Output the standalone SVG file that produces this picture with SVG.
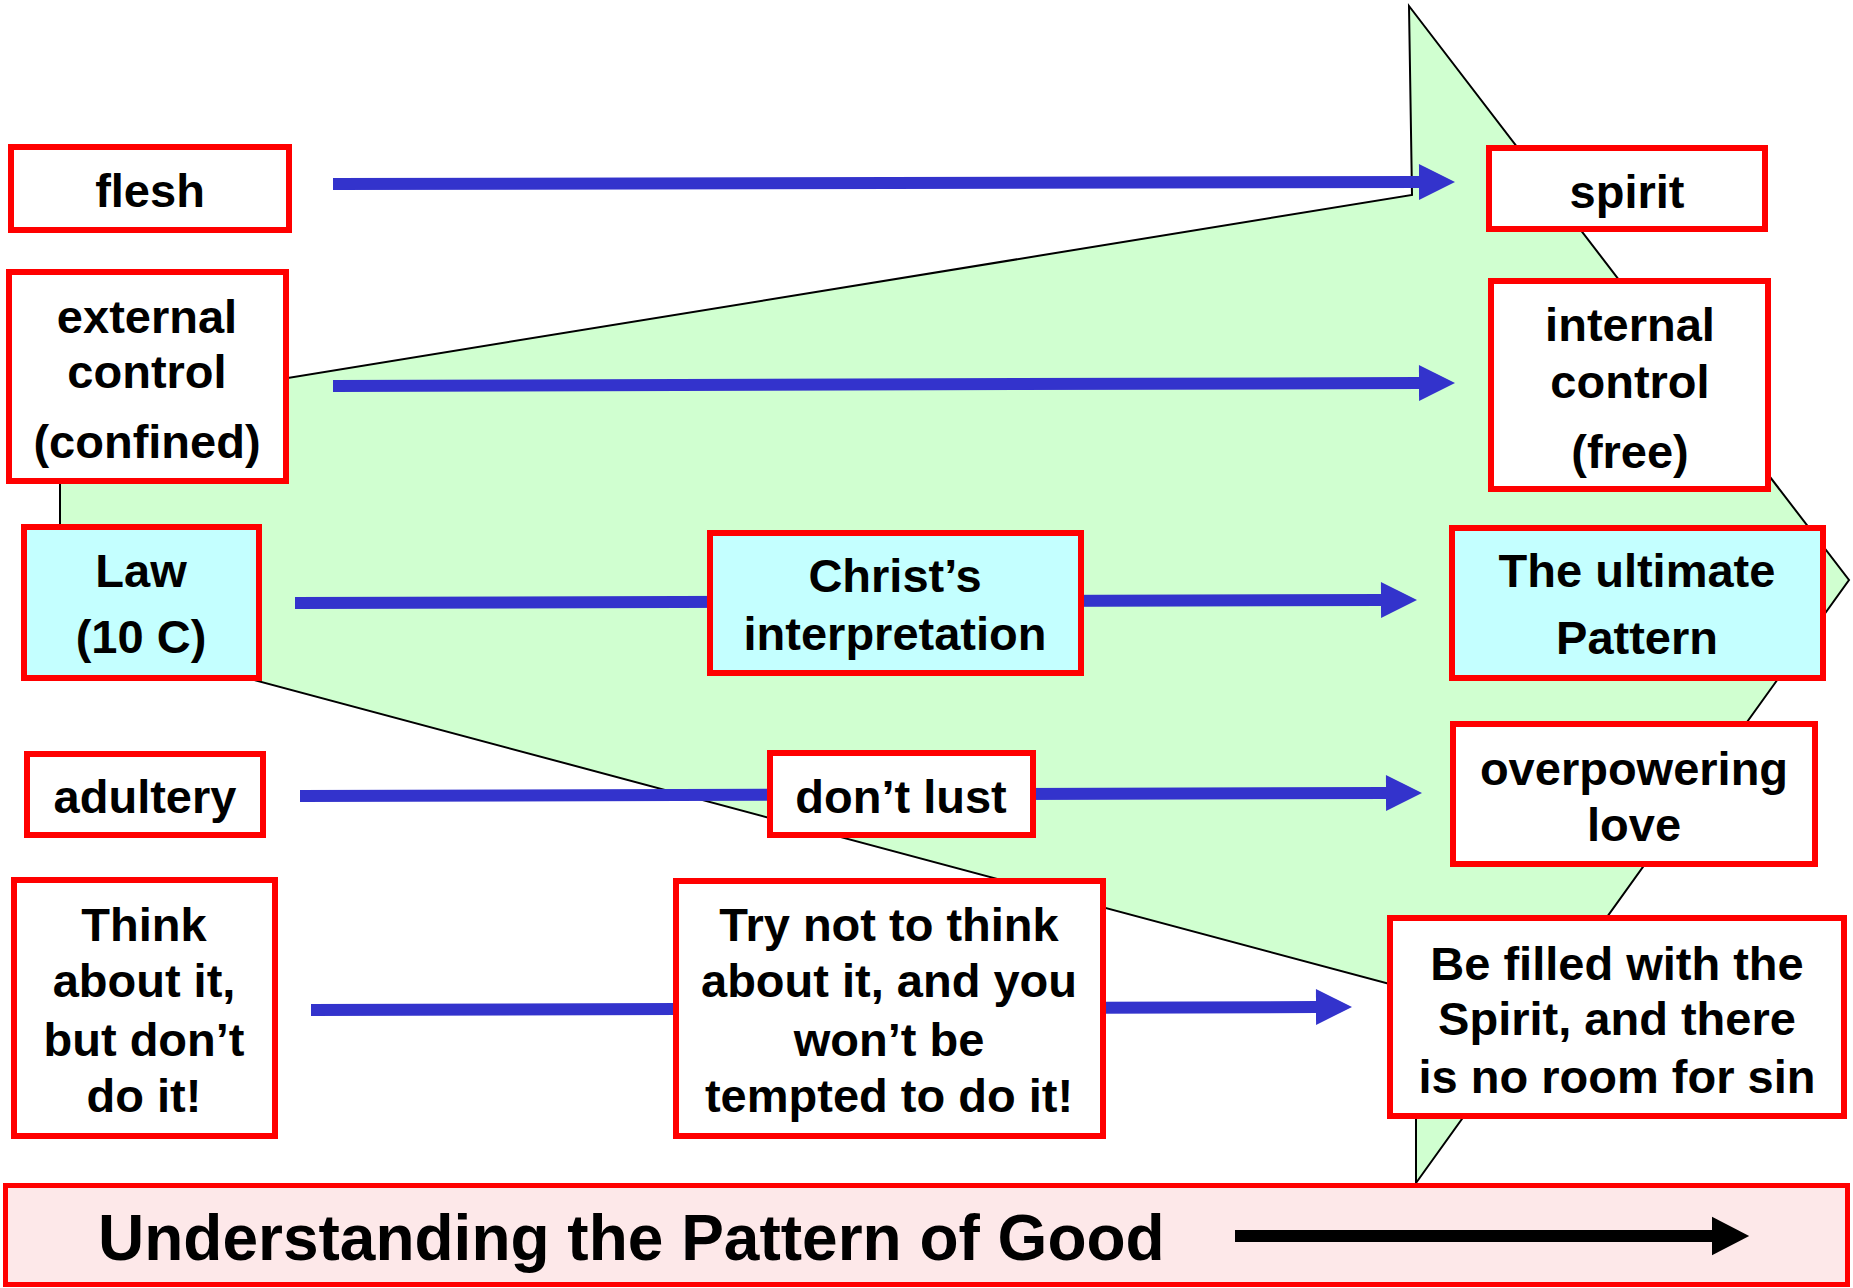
<svg xmlns="http://www.w3.org/2000/svg" width="1853" height="1288" viewBox="0 0 1853 1288">
<defs>
<marker id="bh" markerUnits="strokeWidth" markerWidth="3" markerHeight="3" viewBox="0 0 3 3" refX="0" refY="1.5" orient="auto" overflow="visible"><path d="M0,0 L3,1.5 L0,3 z" fill="#3333CC"/></marker>
<marker id="kh" markerUnits="strokeWidth" markerWidth="3.1" markerHeight="3.2" viewBox="0 0 3.1 3.2" refX="0" refY="1.6" orient="auto" overflow="visible"><path d="M0,0 L3.1,1.6 L0,3.2 z" fill="#000"/></marker>
<style>
.box{stroke:#FF0000;stroke-width:6;fill:#FFFFFF}
.cyan{fill:#C4FFFF}
.t{font-family:"Liberation Sans",Arial,sans-serif;font-weight:bold;font-size:47px;fill:#000;text-anchor:middle}
.con{stroke:#3333CC;stroke-width:12;fill:none;marker-end:url(#bh)}
</style>
</defs>
<rect width="1853" height="1288" fill="#FFFFFF"/>
<polygon id="bigArrow" points="1409,6 1849,580 1416,1183 1416,991 60,628 60,415 1412,195" fill="#D0FFD0" stroke="#000" stroke-width="2"/>
<g id="connectors">
<line class="con" x1="333" y1="184" x2="1419" y2="182"/>
<line class="con" x1="333" y1="386" x2="1419" y2="383"/>
<line class="con" x1="295" y1="603" x2="1381" y2="600"/>
<line class="con" x1="300" y1="796" x2="1386" y2="793"/>
<line class="con" x1="311" y1="1010" x2="1316" y2="1007"/>
</g>
<g id="flesh"><rect class="box" x="11" y="147" width="278" height="83"/><text class="t" x="150" y="207">flesh</text></g>
<g id="external"><rect class="box" x="9" y="272" width="277" height="209"/><text class="t" x="147" y="333">external</text><text class="t" x="147" y="388">control</text><text class="t" x="147" y="458">(confined)</text></g>
<g id="law"><rect class="box cyan" x="24" y="527" width="235" height="151"/><text class="t" x="141" y="587">Law</text><text class="t" x="141" y="653">(10 C)</text></g>
<g id="adultery"><rect class="box" x="27" y="754" width="236" height="81"/><text class="t" x="145" y="813">adultery</text></g>
<g id="think"><rect class="box" x="14" y="880" width="261" height="256"/><text class="t" x="144" y="941">Think</text><text class="t" x="144" y="997">about it,</text><text class="t" x="144" y="1056">but don’t</text><text class="t" x="144" y="1112">do it!</text></g>
<g id="spirit"><rect class="box" x="1489" y="148" width="276" height="81"/><text class="t" x="1627" y="208">spirit</text></g>
<g id="internal"><rect class="box" x="1491" y="281" width="277" height="208"/><text class="t" x="1630" y="341">internal</text><text class="t" x="1630" y="398">control</text><text class="t" x="1630" y="468">(free)</text></g>
<g id="christ"><rect class="box cyan" x="710" y="533" width="371" height="140"/><text class="t" x="895" y="592">Christ’s</text><text class="t" x="895" y="650">interpretation</text></g>
<g id="ultimate"><rect class="box cyan" x="1452" y="528" width="371" height="150"/><text class="t" x="1637" y="587">The ultimate</text><text class="t" x="1637" y="654">Pattern</text></g>
<g id="dontlust"><rect class="box" x="770" y="753" width="263" height="82"/><text class="t" x="901" y="813">don’t lust</text></g>
<g id="overpowering"><rect class="box" x="1453" y="724" width="362" height="140"/><text class="t" x="1634" y="785">overpowering</text><text class="t" x="1634" y="841">love</text></g>
<g id="trynot"><rect class="box" x="676" y="881" width="427" height="255"/><text class="t" x="889" y="941">Try not to think</text><text class="t" x="889" y="997">about it, and you</text><text class="t" x="889" y="1056">won’t be</text><text class="t" x="889" y="1112">tempted to do it!</text></g>
<g id="befilled"><rect class="box" x="1390" y="918" width="454" height="198"/><text class="t" x="1617" y="980">Be filled with the</text><text class="t" x="1617" y="1035">Spirit, and there</text><text class="t" x="1617" y="1093">is no room for sin</text></g>
<g id="banner"><rect x="5.5" y="1185.5" width="1842" height="99" fill="#FDE8E9" stroke="#FF0000" stroke-width="5"/><text x="98" y="1260" style="font-family:'Liberation Sans',Arial,sans-serif;font-weight:bold;font-size:64px;fill:#000">Understanding the Pattern of Good</text><line x1="1235" y1="1236" x2="1712" y2="1236" stroke="#000" stroke-width="12" marker-end="url(#kh)"/></g>
</svg>
